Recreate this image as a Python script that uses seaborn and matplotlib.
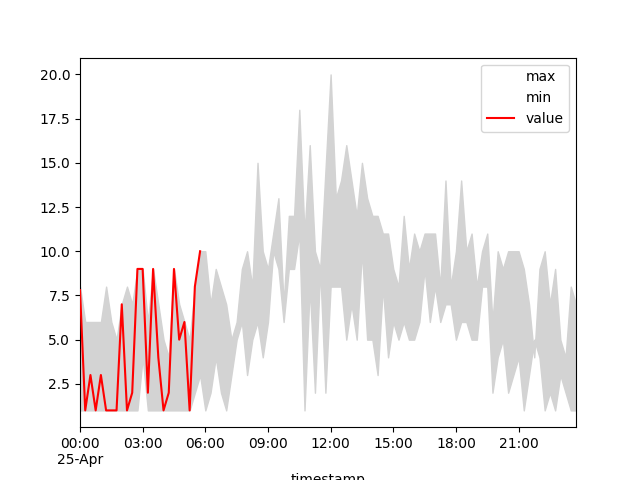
import numpy as np
import pandas as pd
import matplotlib
matplotlib.use("Agg")
import matplotlib.pyplot as plt
import seaborn as sns

max_vals = [8, 6, 6, 6, 6, 8, 6, 5, 7, 8,
            7, 9, 9, 6, 9, 7, 5, 4, 9, 7,
            6, 5, 8, 10, 10, 7, 9, 8, 7, 5,
            6, 9, 10, 8, 15, 10, 9, 11, 13, 7,
            12, 12, 18, 11, 16, 10, 9, 14.5, 20, 13,
            14, 16, 14, 12, 15, 13, 12, 12, 11, 11,
            9, 8, 12, 9, 11, 10, 11, 11, 11, 8,
            14, 8, 10, 14, 10, 11, 8, 10, 11, 6,
            10, 9, 10, 10, 10, 9, 7, 4, 9, 10,
            7, 9, 5, 4, 8, 7]
min_vals = [1, 1, 1, 1, 1, 1, 1, 1, 1, 1,
            1, 1, 4, 1, 1, 1, 1, 1, 1, 1,
            1, 1, 2, 3, 1, 2, 4, 2, 1, 3,
            5, 6, 3, 5, 6, 4, 6, 10, 9, 6,
            9, 9, 11, 1, 8, 2, 9, 2, 8, 8,
            8, 5, 7, 5, 10, 5, 5, 3, 8, 4,
            6, 5, 6, 5, 5, 6, 9, 6, 8, 6,
            7, 7, 5, 6, 6, 5, 5, 8, 8, 2,
            4, 5, 2, 3, 4, 1, 3, 5, 4, 1,
            2, 1, 3, 2, 1, 1]
value_vals = [7.8, 1, 3, 1, 3, 1, 1, 1, 7, 1,
              2, 9, 9, 2, 9, 4, 1, 2, 9, 5,
              6, 1, 8, 10]

timestamps = pd.date_range("2023-04-25 00:00", periods=len(max_vals), freq="15min")
value_full = value_vals + [np.nan] * (len(max_vals) - len(value_vals))

df = pd.DataFrame({"timestamp": timestamps, "max": max_vals,
                   "min": min_vals, "value": value_full})

fig, ax = plt.subplots(figsize=(6.4, 4.8), dpi=100)
sns.lineplot(data=df, x="timestamp", y="max", color="white", label="max", ax=ax, zorder=1)
sns.lineplot(data=df, x="timestamp", y="min", color="white", label="min", ax=ax, zorder=1)
sns.lineplot(data=df.dropna(), x="timestamp", y="value", color="red", label="value",
             ax=ax, zorder=4)
ax.fill_between(df["timestamp"], df["min"], df["max"], color="lightgray", zorder=2)

ax.set_xlim(timestamps[0], timestamps[-1])
ax.set_ylabel("")
ax.set_xlabel("timestamp")
ticks = pd.date_range("2023-04-25 00:00", periods=8, freq="3h")
ax.set_xticks(ticks)
labels = [t.strftime("%H:%M") for t in ticks]
labels[0] = labels[0] + "\n" + ticks[0].strftime("%d-%b")
ax.set_xticklabels(labels)
ax.xaxis.set_minor_locator(matplotlib.ticker.NullLocator())
ax.legend(loc="upper right")

fig.savefig("out.png", dpi=100)
